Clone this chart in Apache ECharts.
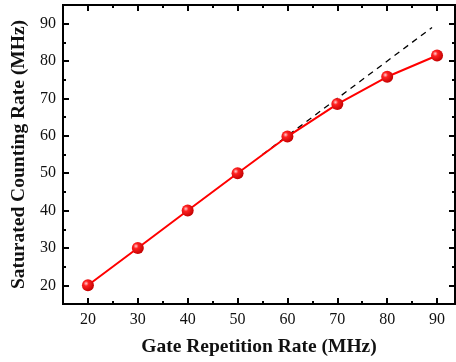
<!DOCTYPE html>
<html>
<head>
<meta charset="utf-8">
<script src="https://cdn.jsdelivr.net/npm/echarts@6/dist/echarts.min.js"></script>
<style>
  html, body { margin: 0; padding: 0; background: #fff; }
  #chart { width: 456px; height: 362px; }
</style>
</head>
<body>
<div id="chart"></div>
<script>
// measured data
const gateRate = [20, 30, 40, 50, 60, 70, 80, 90];
const countRate = [20, 30, 40, 50, 59.8, 68.5, 75.8, 81.5];
// ideal y = x reference
const idealX = [55, 89];
const idealY = [55, 89];

const majorTicks = [20, 30, 40, 50, 60, 70, 80, 90];
const minorTicks = [25, 35, 45, 55, 65, 75, 85];

const FONT = "'Liberation Serif', 'DejaVu Serif', serif";
const INK = "#000";

const chart = echarts.init(document.getElementById("chart"));

function xAxisDef(position, ticks, len, withLabels, extra) {
  return Object.assign({
    type: "value",
    position: position,
    min: 15,
    max: 93.6,
    axisLine: { show: true, onZero: false, lineStyle: { color: INK, width: 2 } },
    axisTick: { show: true, inside: true, length: len, customValues: ticks, lineStyle: { color: INK, width: 2 } },
    axisLabel: withLabels
      ? { show: true, customValues: ticks, fontFamily: FONT, fontSize: 16, color: "#111", margin: 8 }
      : { show: false },
    splitLine: { show: false },
  }, extra || {});
}

function yAxisDef(position, ticks, len, withLabels, extra) {
  return Object.assign({
    type: "value",
    position: position,
    min: 15,
    max: 95,
    axisLine: { show: true, onZero: false, lineStyle: { color: INK, width: 2 } },
    axisTick: { show: true, inside: true, length: len, customValues: ticks, lineStyle: { color: INK, width: 2 } },
    axisLabel: withLabels
      ? { show: true, customValues: ticks, fontFamily: FONT, fontSize: 16, color: "#111", margin: 7 }
      : { show: false },
    splitLine: { show: false },
  }, extra || {});
}

const option = {
  animation: false,
  backgroundColor: "#fff",
  grid: { left: 63, right: 1, top: 5, bottom: 58, containLabel: false },
  xAxis: [
    xAxisDef("bottom", majorTicks, 6, true, {
      name: "Gate Repetition Rate (MHz)",
      nameLocation: "middle",
      nameGap: 33,
      nameTextStyle: { fontFamily: FONT, fontSize: 19.5, fontWeight: "bold", color: "#111" },
    }),
    xAxisDef("bottom", minorTicks, 3, false),
    xAxisDef("top", majorTicks, 6, false),
    xAxisDef("top", minorTicks, 3, false),
  ],
  yAxis: [
    yAxisDef("left", majorTicks, 6, true, {
      name: "Saturated Counting Rate (MHz)",
      nameLocation: "middle",
      nameGap: 32,
      nameTextStyle: { fontFamily: FONT, fontSize: 19.5, fontWeight: "bold", color: "#111" },
    }),
    yAxisDef("left", minorTicks, 3, false),
    yAxisDef("right", majorTicks, 6, false),
    yAxisDef("right", minorTicks, 3, false),
  ],
  series: [
    {
      name: "ideal",
      type: "line",
      xAxisIndex: 0,
      yAxisIndex: 0,
      data: idealX.map((x, i) => [x, idealY[i]]),
      showSymbol: false,
      lineStyle: { color: "#000", width: 1.3, type: [6, 5] },
      z: 2,
    },
    {
      name: "measured",
      type: "line",
      xAxisIndex: 0,
      yAxisIndex: 0,
      data: gateRate.map((x, i) => [x, countRate[i]]),
      symbol: "circle",
      symbolSize: 12,
      lineStyle: { color: "#ff0000", width: 2 },
      itemStyle: {
        color: new echarts.graphic.RadialGradient(0.35, 0.35, 0.7, [
          { offset: 0, color: "#ffd0d0" },
          { offset: 0.3, color: "#ff2020" },
          { offset: 1, color: "#c00000" },
        ]),
        borderWidth: 0,
      },
      z: 3,
    },
  ],
};

chart.setOption(option);
</script>
</body>
</html>
